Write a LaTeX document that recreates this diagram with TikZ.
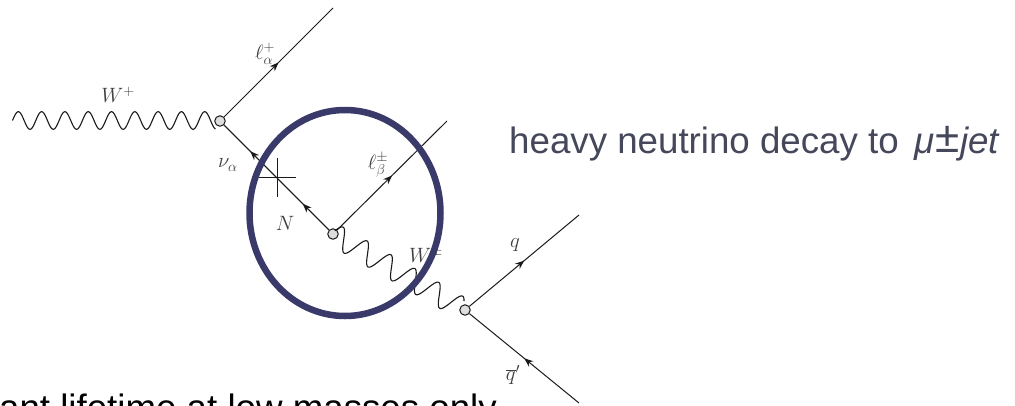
\documentclass[tikz,border=0pt]{standalone}
\usepackage{fontspec}
\setmainfont{Liberation Sans}
\usetikzlibrary{arrows.meta,decorations.markings}
\definecolor{ringblue}{HTML}{3A3A6A}
\definecolor{slate}{HTML}{45475A}
\definecolor{ink}{HTML}{1A1A1A}
\tikzset{
  vertexdot/.style={circle,draw=ink,fill=black!13,line width=1pt,inner sep=0pt,minimum size=10.5pt},
  fermion/.style={draw=ink,line width=1pt},
  arrowat/.style={postaction={decorate},decoration={markings,mark=at position #1 with {\arrow{Stealth[length=9pt,width=7pt]}}}},
  photon/.style={draw=ink,line width=1.1pt,line join=round},
  plabel/.style={text=black!75,font=\fontsize{20}{22}\selectfont,inner sep=0pt},
  bigtext/.style={font=\fontsize{36.7}{40}\selectfont,inner sep=0pt},
}
\begin{document}
\begin{tikzpicture}[x=1pt,y=-1pt]
\useasboundingbox (0,0) rectangle (1015,405);
\clip (0,0) rectangle (1015,405);
\fill[white] (0,0) rectangle (1015,405);

% vertices
\node[vertexdot] (v1) at (220,121) {};
\node[vertexdot] (v2) at (333,234) {};
\node[vertexdot] (v3) at (465,310) {};

\coordinate (lend) at (333,8);
\coordinate (lbend) at (447,121);
\coordinate (qend) at (579,215);
\coordinate (qpend) at (579,403);
\coordinate (crossl) at (259,177);
\coordinate (crossr) at (296,177);
\coordinate (crosst) at (277,158);
\coordinate (crossb) at (277,197);

% connectors
\draw[fermion,arrowat=0.5] (v1) -- (lend);
\draw[fermion,arrowat=0.25] (v2) -- (v1);
\draw[fermion,arrowat=0.75] (v2) -- (v1);
\draw[fermion,arrowat=0.5] (v2) -- (lbend);
\draw[fermion,arrowat=0.5] (v3) -- (qend);
\draw[fermion,arrowat=0.5] (qpend) -- (v3);
\draw[fermion] (crossl) -- (crossr);
\draw[fermion] (crosst) -- (crossb);

% photons
\draw[photon] plot[domain=0:203,samples=260,smooth] ({12.5+\x},{120.5-8.8*sin(\x/23.3*360)});
\draw[photon] plot[domain=0:147,samples=220,smooth]
  ({333+\x*0.866+11*sin(\x/27.6*360+20)*0.5},{234+\x*0.5-11*sin(\x/27.6*360+20)*0.866});

% labels
\node[plabel] (lw) at (118,95) {$W^+$};
\node[plabel] (ll) at (265,54) {$\ell_\alpha^+$};
\node[plabel] (lnu) at (228,165) {$\nu_\alpha$};
\node[plabel] (ln) at (285,223) {$N$};
\node[plabel] (llb) at (378,165) {$\ell_\beta^\pm$};
\node[plabel] (lw2) at (426,255) {$W^\pm$};
\node[plabel] (lq) at (515,245) {$q$};
\node[plabel] (lqp) at (513,375) {$\overline{q}'$};

% ring
\draw[ringblue,line width=6.5pt] (345,213) ellipse [x radius=95.5,y radius=103];

% text
\node[bigtext,text=slate,anchor=base west] (title) at (509,153) {heavy neutrino decay to\hspace{5pt} \textit{μ}\hspace{1pt}\raisebox{1pt}{\fontsize{44}{44}\selectfont ±}\hspace{1pt}\textit{jet}};
\node[bigtext,text=black,anchor=base east] (foot) at (497,420) {ant lifetime at low masses only};
\end{tikzpicture}
\end{document}
